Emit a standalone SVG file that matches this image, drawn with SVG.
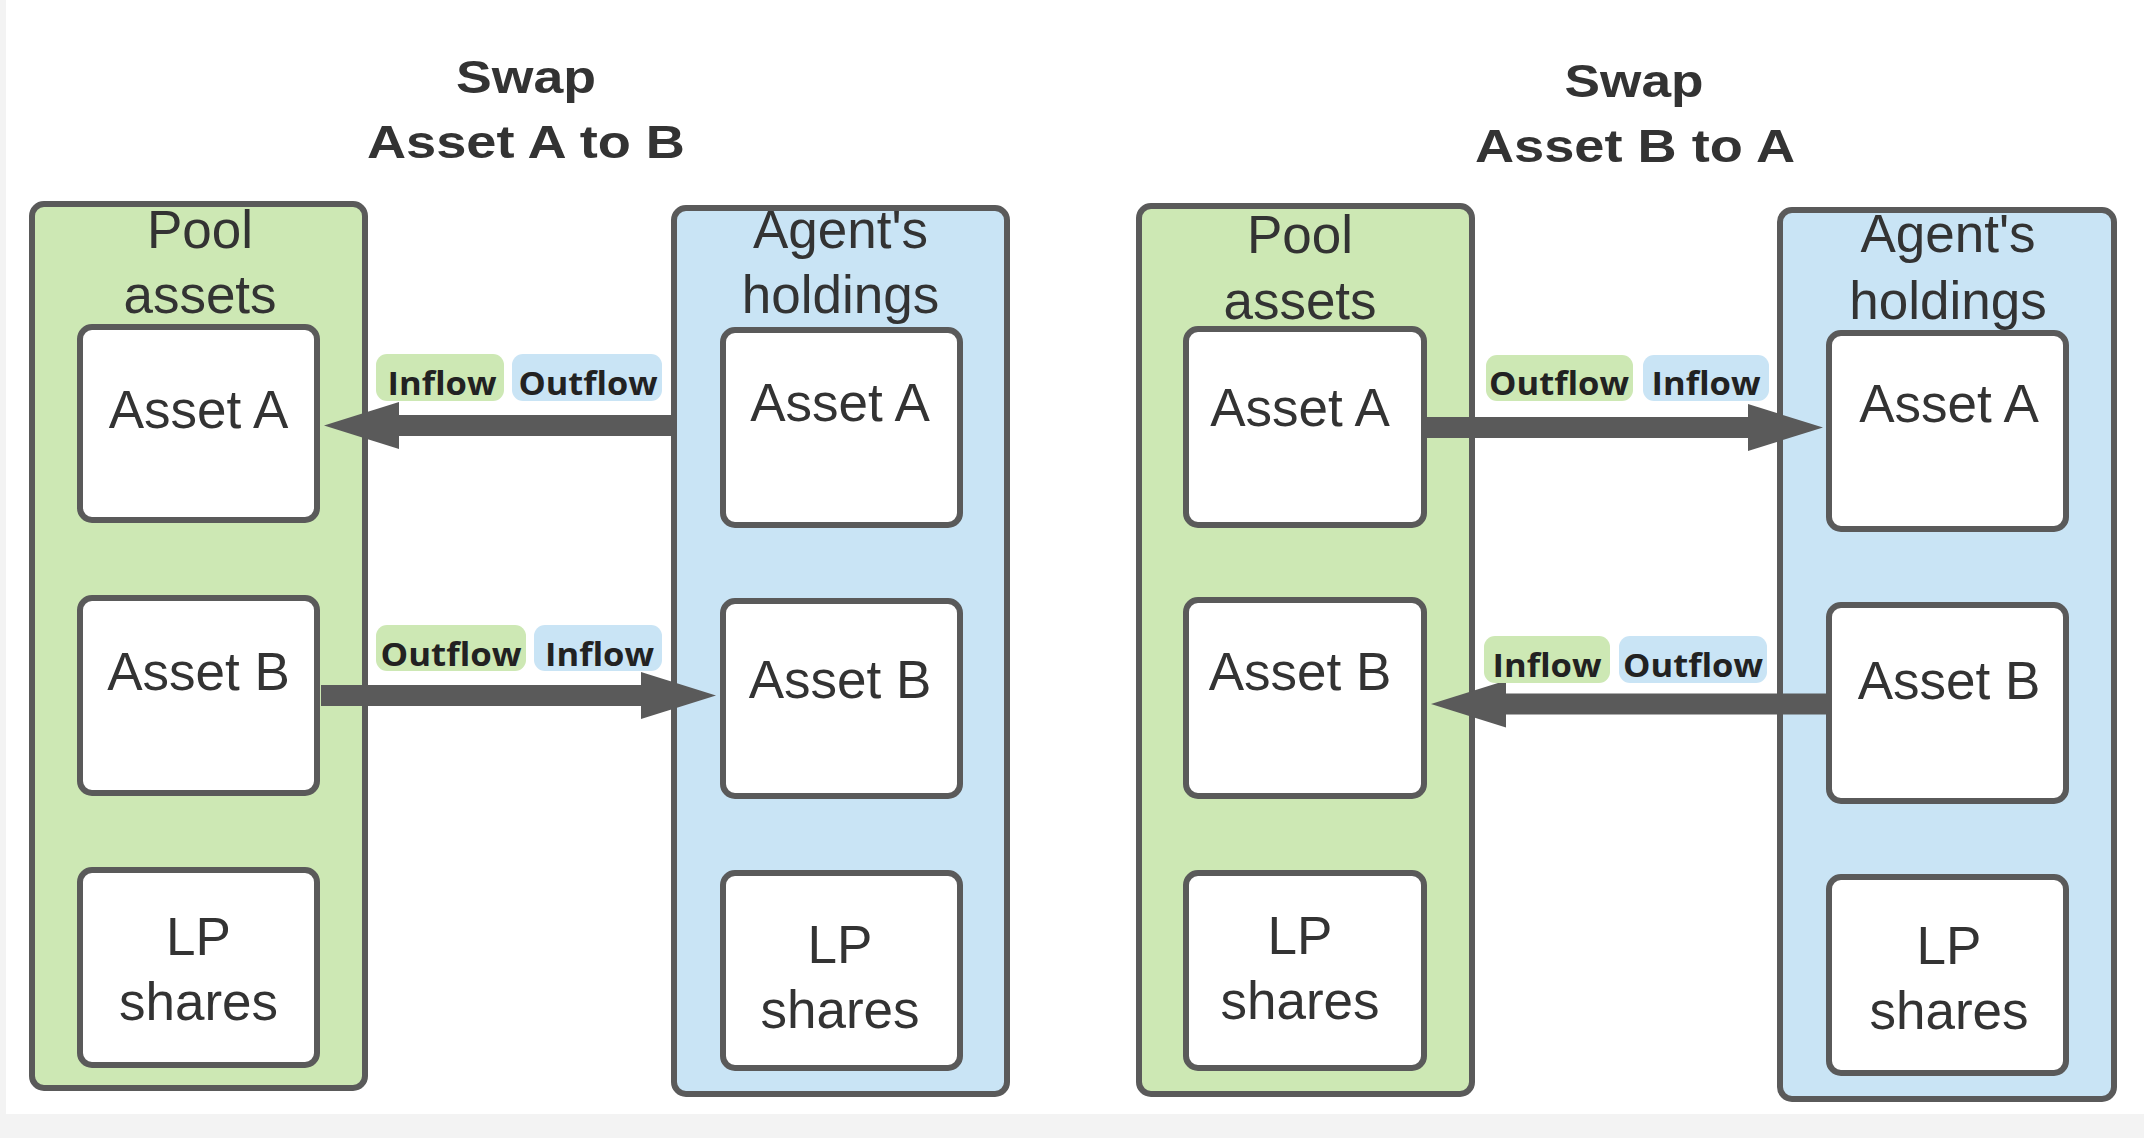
<svg xmlns="http://www.w3.org/2000/svg" width="2144" height="1138" viewBox="0 0 2144 1138">
<style>
.bg{fill:#ffffff}
.edge{fill:#f3f3f3}
.pool{fill:#cde8b4;stroke:#5a5a5a;stroke-width:6}
.agent{fill:#c9e4f5;stroke:#5a5a5a;stroke-width:6}
.inner{fill:#ffffff;stroke:#5a5a5a;stroke-width:6}
.title{font-family:"Liberation Sans",Arial,sans-serif;font-weight:bold;font-size:47px;fill:#333333;text-anchor:middle}
.lbl{font-family:"Liberation Sans",Arial,sans-serif;font-size:53px;fill:#333333;text-anchor:middle}
.pg{fill:#cde8b4}
.pb{fill:#c9e4f5}
.pt{font-family:"Open Sans","Liberation Sans",sans-serif;font-weight:bold;font-size:33px;fill:#222222;text-anchor:middle}
.shaft{stroke:#5a5a5a;stroke-width:21;fill:none}
</style>
<defs>
<marker id="head" viewBox="0 0 75 47" refX="0" refY="23.5" markerWidth="75" markerHeight="47" markerUnits="userSpaceOnUse" orient="auto">
<path d="M0,0 L75,23.5 L0,47 Z" fill="#5a5a5a"/>
</marker>
</defs>
<rect class="bg" x="0" y="0" width="2144" height="1138"/>
<rect class="edge" x="0" y="0" width="6" height="1138"/>
<rect class="edge" x="0" y="1114" width="2144" height="24"/>

<g id="title-left">
<text class="title" x="526" y="93" textLength="140" lengthAdjust="spacingAndGlyphs">Swap</text>
<text class="title" x="526" y="158" textLength="318" lengthAdjust="spacingAndGlyphs">Asset A to B</text>
</g>
<g id="title-right">
<text class="title" x="1634" y="97" textLength="139" lengthAdjust="spacingAndGlyphs">Swap</text>
<text class="title" x="1635" y="162" textLength="320" lengthAdjust="spacingAndGlyphs">Asset B to A</text>
</g>

<g id="pool-left">
<rect class="pool" x="32" y="204" width="333" height="884" rx="12"/>
<text class="lbl" x="200" y="248">Pool</text>
<text class="lbl" x="200" y="313">assets</text>
</g>
<g id="pool-left-asset-a">
<rect class="inner" x="80" y="327" width="237" height="193" rx="12"/>
<text class="lbl" x="198.5" y="428">Asset A</text>
</g>
<g id="pool-left-asset-b">
<rect class="inner" x="80" y="598" width="237" height="195" rx="12"/>
<text class="lbl" x="198.5" y="690">Asset B</text>
</g>
<g id="pool-left-lp">
<rect class="inner" x="80" y="870" width="237" height="195" rx="12"/>
<text class="lbl" x="198.5" y="955">LP</text>
<text class="lbl" x="198.5" y="1020">shares</text>
</g>

<g id="agent-left">
<rect class="agent" x="674" y="208" width="333" height="886" rx="12"/>
<text class="lbl" x="840.5" y="248">Agent's</text>
<text class="lbl" x="840.5" y="313">holdings</text>
</g>
<g id="agent-left-asset-a">
<rect class="inner" x="723" y="330" width="237" height="195" rx="12"/>
<text class="lbl" x="840" y="421">Asset A</text>
</g>
<g id="agent-left-asset-b">
<rect class="inner" x="723" y="601" width="237" height="195" rx="12"/>
<text class="lbl" x="840" y="698">Asset B</text>
</g>
<g id="agent-left-lp">
<rect class="inner" x="723" y="873" width="237" height="195" rx="12"/>
<text class="lbl" x="840" y="963">LP</text>
<text class="lbl" x="840" y="1028">shares</text>
</g>

<g id="pool-right">
<rect class="pool" x="1139" y="206" width="333" height="888" rx="12"/>
<text class="lbl" x="1300" y="253">Pool</text>
<text class="lbl" x="1300" y="319">assets</text>
</g>
<g id="pool-right-asset-a">
<rect class="inner" x="1186" y="329" width="238" height="196" rx="12"/>
<text class="lbl" x="1300" y="426">Asset A</text>
</g>
<g id="pool-right-asset-b">
<rect class="inner" x="1186" y="600" width="238" height="196" rx="12"/>
<text class="lbl" x="1300" y="690">Asset B</text>
</g>
<g id="pool-right-lp">
<rect class="inner" x="1186" y="873" width="238" height="195" rx="12"/>
<text class="lbl" x="1300" y="954">LP</text>
<text class="lbl" x="1300" y="1019">shares</text>
</g>

<g id="agent-right">
<rect class="agent" x="1780" y="210" width="334" height="889" rx="12"/>
<text class="lbl" x="1948" y="252">Agent's</text>
<text class="lbl" x="1948" y="319">holdings</text>
</g>
<g id="agent-right-asset-a">
<rect class="inner" x="1829" y="333" width="237" height="196" rx="12"/>
<text class="lbl" x="1949" y="422">Asset A</text>
</g>
<g id="agent-right-asset-b">
<rect class="inner" x="1829" y="605" width="237" height="196" rx="12"/>
<text class="lbl" x="1949" y="699">Asset B</text>
</g>
<g id="agent-right-lp">
<rect class="inner" x="1829" y="877" width="237" height="196" rx="12"/>
<text class="lbl" x="1949" y="964">LP</text>
<text class="lbl" x="1949" y="1029">shares</text>
</g>

<g id="connectors">
<line class="shaft" x1="672" y1="425.5" x2="399" y2="425.5" marker-end="url(#head)"/>
<line class="shaft" x1="321" y1="695.5" x2="641" y2="695.5" marker-end="url(#head)"/>
<line class="shaft" x1="1427" y1="427.5" x2="1748" y2="427.5" marker-end="url(#head)"/>
<line class="shaft" x1="1827" y1="704" x2="1506" y2="704" marker-end="url(#head)"/>
</g>

<g id="labels">
<rect class="pg" x="376" y="354" width="128" height="47" rx="11"/>
<text class="pt" x="442" y="395" textLength="109" lengthAdjust="spacingAndGlyphs">Inflow</text>
<rect class="pb" x="512" y="354" width="150" height="47" rx="11"/>
<text class="pt" x="588" y="395" textLength="139" lengthAdjust="spacingAndGlyphs">Outflow</text>

<rect class="pg" x="376" y="625" width="150" height="46" rx="11"/>
<text class="pt" x="451" y="666" textLength="141" lengthAdjust="spacingAndGlyphs">Outflow</text>
<rect class="pb" x="534" y="625" width="128" height="46" rx="11"/>
<text class="pt" x="599.5" y="666" textLength="109" lengthAdjust="spacingAndGlyphs">Inflow</text>

<rect class="pg" x="1486" y="355" width="147" height="46" rx="11"/>
<text class="pt" x="1559" y="395" textLength="140" lengthAdjust="spacingAndGlyphs">Outflow</text>
<rect class="pb" x="1643" y="355" width="126" height="46" rx="11"/>
<text class="pt" x="1706" y="395" textLength="109" lengthAdjust="spacingAndGlyphs">Inflow</text>

<rect class="pg" x="1484" y="636" width="126" height="47" rx="11"/>
<text class="pt" x="1547" y="677" textLength="109" lengthAdjust="spacingAndGlyphs">Inflow</text>
<rect class="pb" x="1619" y="636" width="148" height="47" rx="11"/>
<text class="pt" x="1693" y="677" textLength="140" lengthAdjust="spacingAndGlyphs">Outflow</text>
</g>
</svg>
